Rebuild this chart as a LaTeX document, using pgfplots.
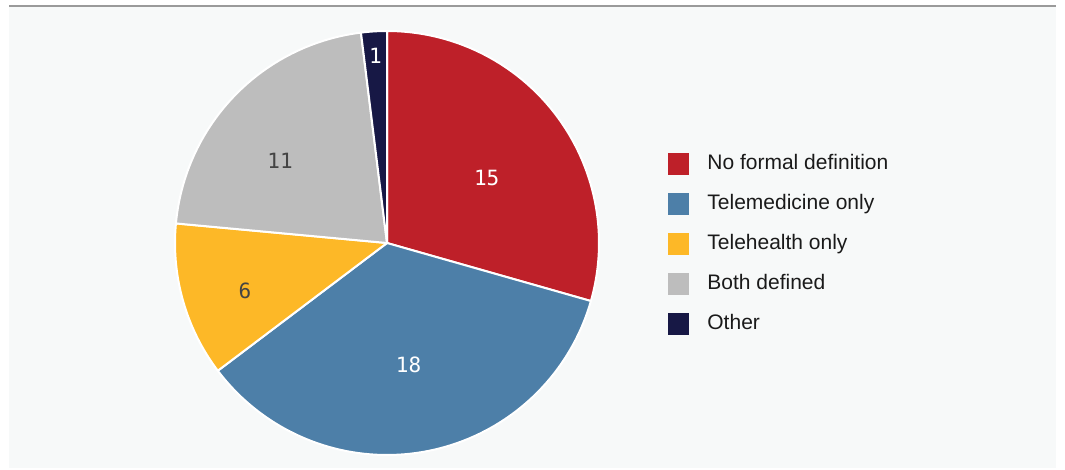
\documentclass[border=0pt]{standalone}
\usepackage{pgfplots}
\pgfplotsset{compat=1.18}
\usepackage{fontspec}
\setmainfont{Liberation Sans}
\newfontfamily\labelfont{DejaVu Sans Mono}

\definecolor{cRed}{HTML}{BE2029}
\definecolor{cBlue}{HTML}{4D7FA8}
\definecolor{cYellow}{HTML}{FDB827}
\definecolor{cGray}{HTML}{BDBDBD}
\definecolor{cNavy}{HTML}{171845}
\definecolor{panel}{HTML}{F7F9F9}
\definecolor{rule}{HTML}{9A9A9A}
\definecolor{ink}{HTML}{1A1A1A}
\definecolor{dark}{HTML}{444444}

% slice values
\def\vA{15}  % No formal definition
\def\vB{18}  % Telemedicine only
\def\vC{6}   % Telehealth only
\def\vD{11}  % Both defined
\def\vE{1}   % Other

% pie geometry (pixel units)
\def\cx{387}
\def\cy{243}
\def\R{212}

\pgfmathsetmacro\total{\vA+\vB+\vC+\vD+\vE}
\pgfmathsetmacro\aA{90}
\pgfmathsetmacro\aB{\aA-360*\vA/\total}
\pgfmathsetmacro\aC{\aB-360*\vB/\total}
\pgfmathsetmacro\aD{\aC-360*\vC/\total}
\pgfmathsetmacro\aE{\aD-360*\vD/\total}
\pgfmathsetmacro\aF{\aE-360*\vE/\total}

% label positions: near mid angle, per-slice radius
\pgfmathsetmacro\xA{\cx+119*cos((\aA+\aB)/2-4)}\pgfmathsetmacro\yA{\cy-119*sin((\aA+\aB)/2-4)}
\pgfmathsetmacro\xB{\cx+124*cos((\aB+\aC)/2-0.6)}\pgfmathsetmacro\yB{\cy-124*sin((\aB+\aC)/2-0.6)}
\pgfmathsetmacro\xC{\cx+150*cos((\aC+\aD)/2+2.7)}\pgfmathsetmacro\yC{\cy-150*sin((\aC+\aD)/2+2.7)}
\pgfmathsetmacro\xD{\cx+135*cos((\aD+\aE)/2+6.5)}\pgfmathsetmacro\yD{\cy-135*sin((\aD+\aE)/2+6.5)}
\pgfmathsetmacro\xE{\cx+188*cos((\aE+\aF)/2)}\pgfmathsetmacro\yE{\cy-188*sin((\aE+\aF)/2)}

\begin{document}
\begin{tikzpicture}
\begin{axis}[
	x=0.5pt, y=0.5pt,
	xmin=0, xmax=1065, ymin=0, ymax=470,
	y dir=reverse,
	hide axis,
	clip=false,
	every axis plot/.append style={draw=white, line width=1pt, line join=round},
	legend style={at={(axis cs:668,153)}, anchor=north west, draw=none, fill=none,
		inner sep=0pt, row sep=9pt, text=ink,
		font=\fontsize{10.5}{12}\selectfont,
		nodes={inner sep=0pt, text height=7.5pt, text depth=2.5pt},
		/tikz/every odd column/.style={column sep=9pt}},
	legend cell align=left,
	legend image code/.code={\path[fill, draw=none] (0pt,-5.5pt) rectangle (10.5pt,5.5pt);},
]
\fill[white] (axis cs:0,0) rectangle (axis cs:1065,470);
\fill[panel] (axis cs:9,7) rectangle (axis cs:1056,468);
\draw[rule, line width=1pt] (axis cs:9,6.5) -- (axis cs:1056,6.5);

\addplot[fill=cRed, domain=\aB:\aA, samples=80, variable=\t]
	({\cx+\R*cos(\t)},{\cy-\R*sin(\t)}) -- (axis cs:\cx,\cy) -- cycle;
\addplot[fill=cBlue, domain=\aC:\aB, samples=80, variable=\t]
	({\cx+\R*cos(\t)},{\cy-\R*sin(\t)}) -- (axis cs:\cx,\cy) -- cycle;
\addplot[fill=cYellow, domain=\aD:\aC, samples=40, variable=\t]
	({\cx+\R*cos(\t)},{\cy-\R*sin(\t)}) -- (axis cs:\cx,\cy) -- cycle;
\addplot[fill=cGray, domain=\aE:\aD, samples=60, variable=\t]
	({\cx+\R*cos(\t)},{\cy-\R*sin(\t)}) -- (axis cs:\cx,\cy) -- cycle;
\addplot[fill=cNavy, domain=\aF:\aE, samples=10, variable=\t]
	({\cx+\R*cos(\t)},{\cy-\R*sin(\t)}) -- (axis cs:\cx,\cy) -- cycle;
\legend{No formal definition, Telemedicine only, Telehealth only, Both defined, Other}

\begin{scope}[every node/.style={font=\labelfont\fontsize{10.5}{12}\selectfont}]
\node[text=white] at (axis cs:\xA,\yA) {\vA};
\node[text=white] at (axis cs:\xB,\yB) {\vB};
\node[text=dark]  at (axis cs:\xC,\yC) {\vC};
\node[text=dark]  at (axis cs:\xD,\yD) {\vD};
\node[text=white] at (axis cs:\xE,\yE) {\vE};
\end{scope}
\end{axis}
\end{tikzpicture}
\end{document}
